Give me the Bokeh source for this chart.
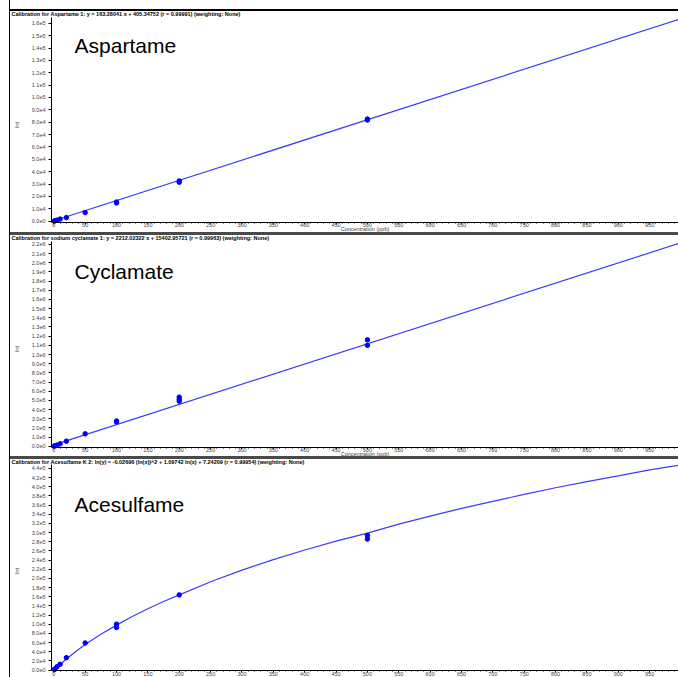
from bokeh.plotting import figure
from bokeh.layouts import column, row
from bokeh.models import Div, Label, FixedTicker, Range1d
from bokeh.embed import file_html
from bokeh.resources import INLINE

# ---------------- data ----------------
conc_ticks = list(range(0, 1000, 50))
conc_minor = list(range(0, 1000, 10))
conc_labels = [str(v) for v in conc_ticks]
x_title = "Concentration (ppb)"
y_title = "Int"

# Aspartame
asp_title = "Calibration for Aspartame 1: y = 163.28041 x + 405.34752 (r = 0.99991)  (weighting: None)"
asp_x = [1, 2, 5, 10, 20, 50, 100, 100, 200, 200, 500, 500]
asp_y = [200, 350, 850, 1700, 2900, 7000, 14800, 15500, 31500, 32500, 81800, 82600]
asp_fit_x = [0, 996]
asp_fit_y = [400, 163000]
asp_ticks = [0, 10000, 20000, 30000, 40000, 50000, 60000, 70000, 80000, 90000,
             100000, 110000, 120000, 130000, 140000, 150000, 160000]
asp_tick_labels = ["0.0e0", "1.0e4", "2.0e4", "3.0e4", "4.0e4", "5.0e4", "6.0e4", "7.0e4",
                   "8.0e4", "9.0e4", "1.0e5", "1.1e5", "1.2e5", "1.3e5", "1.4e5", "1.5e5", "1.6e5"]

# Cyclamate
cyc_title = "Calibration for sodium cyclamate 1: y = 2212.02322 x + 15402.95721 (r = 0.99963)  (weighting: None)"
cyc_x = [1, 2, 5, 10, 20, 50, 100, 100, 200, 200, 200, 500, 500]
cyc_y = [2000, 4500, 12000, 26000, 55000, 135000, 265000, 275000, 490000, 510000, 535000,
         1100000, 1160000]
cyc_fit_x = [0, 996]
cyc_fit_y = [15000, 2210000]
cyc_ticks = [0, 100000, 200000, 300000, 400000, 500000, 600000, 700000, 800000, 900000,
             1000000, 1100000, 1200000, 1300000, 1400000, 1500000, 1600000, 1700000,
             1800000, 1900000, 2000000, 2100000, 2200000]
cyc_tick_labels = ["0.0e0", "1.0e5", "2.0e5", "3.0e5", "4.0e5", "5.0e5", "6.0e5", "7.0e5",
                   "8.0e5", "9.0e5", "1.0e6", "1.1e6", "1.2e6", "1.3e6", "1.4e6", "1.5e6",
                   "1.6e6", "1.7e6", "1.8e6", "1.9e6", "2.0e6", "2.1e6", "2.2e6"]

# Acesulfame
ace_title = ("Calibration for Acesulfame K 2: ln(y) = -0.02696 (ln(x))^2 + 1.09742 ln(x) + 7.24209 "
             "(r = 0.99954)  (weighting: None)")
ace_x = [1, 2, 5, 10, 20, 50, 100, 100, 200, 500, 500]
ace_y = [1200, 2500, 7000, 12500, 27000, 59000, 93000, 100000, 164000, 294000, 286000]
ace_fit_x = [0, 1, 2, 5, 10, 20, 35, 50, 75, 100, 125, 150, 175, 200, 250, 300, 350, 400, 450,
             500, 550, 600, 650, 700, 750, 800, 850, 900, 950, 1000]
ace_fit_y = [0, 820, 1950, 5700, 12000, 24000, 40400, 55500, 77900, 98000, 116700, 133700,
             149600, 164000, 192600, 218000, 240900, 262000, 281500, 299000, 318500, 336000,
             353000, 368000, 383600, 398000, 411400, 424000, 436900, 448000]
ace_ticks = [0, 20000, 40000, 60000, 80000, 100000, 120000, 140000, 160000, 180000, 200000,
             220000, 240000, 260000, 280000, 300000, 320000, 340000, 360000, 380000, 400000,
             420000, 440000]
ace_tick_labels = ["0.0e0", "2.0e4", "4.0e4", "6.0e4", "8.0e4", "1.0e5", "1.2e5", "1.4e5",
                   "1.6e5", "1.8e5", "2.0e5", "2.2e5", "2.4e5", "2.6e5", "2.8e5", "3.0e5",
                   "3.2e5", "3.4e5", "3.6e5", "3.8e5", "4.0e5", "4.2e5", "4.4e5"]

names = ["Aspartame", "Cyclamate", "Acesulfame"]

FONT = "Liberation Sans"
SMALL = "5.5px"


def panel(height, title, name, name_y, xs, ys, fx, fy, ticks, labels, yr, axis_at, top,
          title_standoff, show_xlabel):
    p = figure(width=668, height=height, x_range=Range1d(-3.7, 996), y_range=Range1d(*yr),
               output_backend="svg", toolbar_location=None,
               min_border_left=40, min_border_right=0, min_border_top=top, min_border_bottom=0,
               background_fill_color="white", border_fill_color="white", outline_line_color=None)
    p.grid.visible = False
    p.title.text = title
    p.title.align = "left"
    p.title.vertical_align = "top"
    p.title.offset = -40
    p.title.standoff = title_standoff
    p.title.text_font = FONT
    p.title.text_font_size = SMALL
    p.title.text_font_style = "bold"
    p.title.text_color = "black"

    xa = p.xaxis[0]
    xa.fixed_location = axis_at
    xa.ticker = FixedTicker(ticks=conc_ticks, minor_ticks=conc_minor)
    xa.major_label_overrides = dict(zip(conc_ticks, conc_labels))
    xa.major_label_text_font = FONT
    xa.major_label_text_font_size = SMALL
    xa.major_label_standoff = -1
    xa.major_tick_out = 2
    xa.major_tick_in = 0
    xa.minor_tick_out = 1
    xa.minor_tick_in = 0
    xa.axis_line_color = "black"
    if show_xlabel:
        xa.axis_label = x_title
        xa.axis_label_text_font = FONT
        xa.axis_label_text_font_size = SMALL
        xa.axis_label_text_font_style = "normal"
        xa.axis_label_standoff = -5

    ya = p.yaxis[0]
    ya.bounds = (axis_at, yr[1])
    ya.ticker = FixedTicker(ticks=ticks, minor_ticks=[])
    ya.major_label_overrides = dict(zip(ticks, labels))
    ya.major_label_text_font = FONT
    ya.major_label_text_font_size = SMALL
    ya.major_label_standoff = 3
    ya.major_tick_out = 3
    ya.major_tick_in = 0
    ya.axis_line_color = "black"
    ya.axis_label = y_title
    ya.axis_label_text_font = FONT
    ya.axis_label_text_font_size = SMALL
    ya.axis_label_text_font_style = "normal"
    ya.axis_label_standoff = 9

    p.line(fx, fy, line_color="#3c3cff", line_width=1.2)
    p.scatter(xs, ys, marker="circle", size=4.5, color="#0000ff")
    p.add_layout(Label(x=33, y=name_y, text=name, text_font=FONT, text_font_size="21px",
                       text_color="black", text_baseline="alphabetic"))
    return p


p1 = panel(221, asp_title, names[0], 141700, asp_x, asp_y, asp_fit_x, asp_fit_y,
           asp_ticks, asp_tick_labels, (-9135, 164670), -808, 6, -3, True)
p2 = panel(221, cyc_title, names[1], 1905000, cyc_x, cyc_y, cyc_fit_x, cyc_fit_y,
           cyc_ticks, cyc_tick_labels, (-112300, 2232300), -10900, 6, -3, True)
p3 = panel(218, ace_title, names[2], 361500, ace_x, ace_y, ace_fit_x, ace_fit_y,
           ace_ticks, ace_tick_labels, (-16375, 448690), -1092, 5, -4, False)

left_bar = Div(width=10, height=677, margin=0,
               styles={"background": "linear-gradient(to right, white 9px, black 9px)"})
top_bar = Div(width=668, height=11, margin=0,
              styles={"background": "linear-gradient(to bottom, white 9px, black 9px)"})
sep1 = Div(width=668, height=3, margin=0, styles={"background-color": "#4a4a4a"})
sep2 = Div(width=668, height=3, margin=0, styles={"background-color": "#4a4a4a"})

layout = row(left_bar, column(top_bar, p1, sep1, p2, sep2, p3, spacing=0), spacing=0)

open("out.html", "w").write(file_html(layout, INLINE))
